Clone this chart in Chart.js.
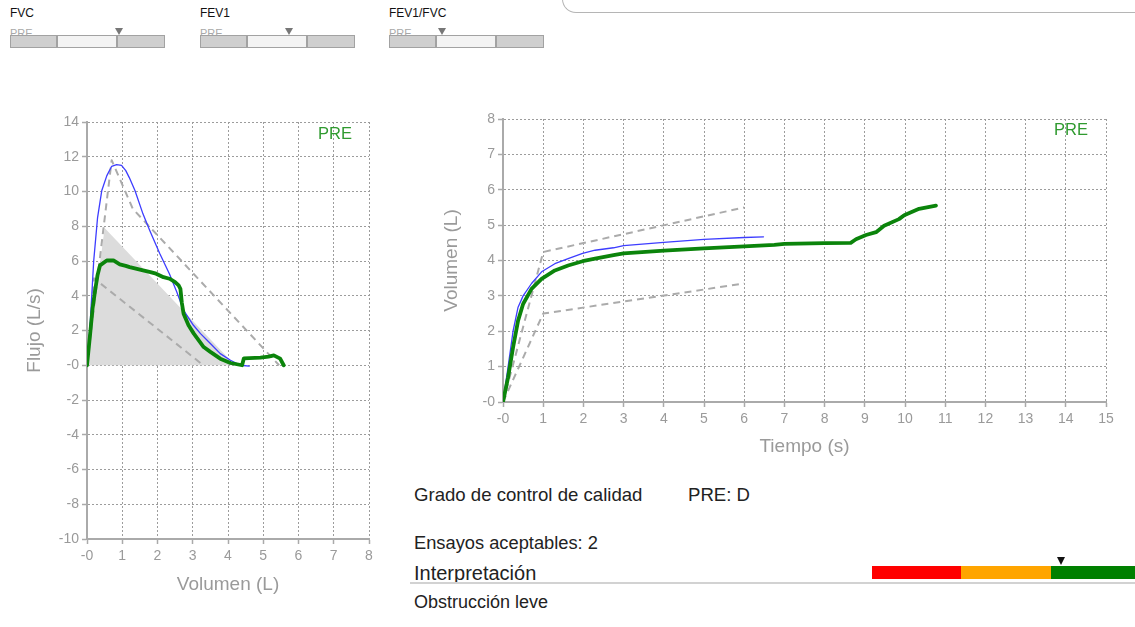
<!DOCTYPE html>
<html>
<head>
<meta charset="utf-8">
<script src="https://cdn.jsdelivr.net/npm/chart.js@4.4.1/dist/chart.umd.min.js"></script>
<style>
  html, body { margin:0; padding:0; background:#fff; }
  #page { position:relative; width:1135px; height:627px; overflow:hidden; font-family:"Liberation Sans", Arial, sans-serif; }
  .abs { position:absolute; white-space:nowrap; }
  canvas { position:absolute; }
</style>
</head>
<body>
<div id="page">
  <div id="indicators"></div>
  <div class="abs" style="left:562px;top:-12px;width:620px;height:24px;border-left:1.5px solid #b5b5b5;border-bottom:1.5px solid #b5b5b5;border-bottom-left-radius:14px;"></div>

  <canvas id="fv" width="400" height="510" style="left:0;top:100px;"></canvas>
  <canvas id="vt" width="715" height="370" style="left:420px;top:100px;"></canvas>

  <div class="abs" style="left:414px;top:484px;font-size:18.6px;line-height:22px;color:#222;">Grado de control de calidad</div>
  <div class="abs" style="left:688px;top:484px;font-size:18.6px;line-height:22px;color:#222;">PRE: D</div>
  <div class="abs" style="left:414px;top:532px;font-size:18.3px;line-height:22px;color:#222;">Ensayos aceptables: 2</div>
  <div class="abs" style="left:414px;top:561px;font-size:20px;line-height:24px;color:#222;">Interpretación</div>
  <div class="abs" style="left:410px;top:582px;width:725px;height:2px;background:#d2d2d2;"></div>
  <div class="abs" style="left:414px;top:591px;font-size:18px;line-height:22px;color:#222;">Obstrucción leve</div>
  <div id="severity"></div>
</div>
<script>
// ---------- Data ----------
// Flow-volume loop (Volumen L, Flujo L/s)
const fvBlueVol  = [0, 0.09, 0.19, 0.3, 0.42, 0.56, 0.7, 0.84, 0.98, 1.1, 1.2, 1.36, 1.59, 1.78, 2.06, 2.34, 2.55, 2.74, 3.02, 3.22, 3.5, 3.78, 4.07, 4.35, 4.6];
const fvBlueFlow = [0, 2.4, 6.0, 8.5, 10.06, 10.9, 11.45, 11.55, 11.5, 11.2, 10.8, 10.06, 8.7, 7.76, 6.45, 5.25, 4.2, 3.16, 2.3, 1.82, 1.25, 0.67, 0.29, 0.0, -0.05];
const fvGreenVol  = [0, 0.09, 0.16, 0.23, 0.3, 0.37, 0.56, 0.75, 0.93, 1.1, 1.21, 1.59, 1.8, 1.96, 2.17, 2.34, 2.5, 2.6, 2.65, 2.69, 2.74, 2.88, 3.03, 3.31, 3.5, 3.78, 4.07, 4.4, 4.45, 4.92, 5.15, 5.3, 5.48, 5.58];
const fvGreenFlow = [0, 1.82, 3.3, 4.3, 5.2, 5.75, 6.03, 6.03, 5.8, 5.72, 5.65, 5.46, 5.36, 5.27, 5.07, 4.98, 4.79, 4.6, 4.4, 3.6, 2.97, 2.3, 1.82, 1.05, 0.77, 0.38, 0.13, 0.0, 0.4, 0.44, 0.5, 0.57, 0.38, 0.0];
const fvShadeVol  = [0, 0.5, 4.2];
const fvShadeFlow = [0, 7.9, 0];
const fvUpperVol  = [0, 0.7, 1.3, 5.45];
const fvUpperFlow = [0, 11.8, 9.0, 0];
const fvLowerVol  = [0, 0.2, 3.3];
const fvLowerFlow = [0, 5.0, 0];
const fvXTicks = ['-0', '1', '2', '3', '4', '5', '6', '7', '8'];
const fvYTicks = ['-10', '-8', '-6', '-4', '-2', '-0', '2', '4', '6', '8', '10', '12', '14'];

// Volume-time curve (Tiempo s, Volumen L)
const vtBlueTime = [0, 0.125, 0.25, 0.375, 0.5, 0.71, 0.96, 1.29, 1.62, 1.98, 2.29, 2.75, 3.0, 4.0, 5.0, 6.0, 6.48];
const vtBlueVol  = [0, 0.98, 2.0, 2.68, 3.0, 3.35, 3.68, 3.91, 4.05, 4.2, 4.29, 4.36, 4.42, 4.51, 4.6, 4.65, 4.67];
const vtGreenTime = [0, 0.125, 0.25, 0.375, 0.5, 0.71, 0.96, 1.29, 1.62, 1.98, 2.29, 2.75, 3.0, 4.0, 5.0, 6.0, 6.75, 7.0, 8.0, 8.65, 8.78, 9.03, 9.28, 9.48, 9.85, 9.98, 10.35, 10.77];
const vtGreenVol  = [0, 0.69, 1.54, 2.3, 2.77, 3.2, 3.48, 3.72, 3.86, 3.98, 4.05, 4.15, 4.2, 4.28, 4.34, 4.4, 4.44, 4.47, 4.49, 4.5, 4.6, 4.72, 4.8, 4.98, 5.17, 5.28, 5.46, 5.55];
const vtUpperTime = [0, 1, 6];
const vtUpperVol  = [0, 4.24, 5.5];
const vtLowerTime = [0, 1, 6];
const vtLowerVol  = [0, 2.5, 3.35];
const vtXTicks = ['-0', '1', '2', '3', '4', '5', '6', '7', '8', '9', '10', '11', '12', '13', '14', '15'];
const vtYTicks = ['-0', '1', '2', '3', '4', '5', '6', '7', '8'];

// Indicator bars (top-left) and severity scale
const indicatorLabels = ['FVC', 'FEV1', 'FEV1/FVC'];
const indicatorMarker = [0.705, 0.578, 0.347];  // fraction along the bar
const severityColors = ['#ff0000', '#ffa500', '#008000'];
const severityMarker = 0.72;

// ---------- Helpers ----------
const pts = (xs, ys) => xs.map((x, i) => ({ x: x, y: ys[i] }));
const FONT = '"Liberation Sans", Arial, sans-serif';
Chart.defaults.font.family = FONT;
Chart.defaults.animation = false;

const BLUE = '#3d3dff', GREEN = '#0b840b', DASH = '#ababab';

function line(data, color, width, order, extra) {
  return Object.assign({
    data: data, showLine: true, borderColor: color, borderWidth: width,
    pointRadius: 0, pointHoverRadius: 0, fill: false, tension: 0, order: order,
    borderJoinStyle: 'round', borderCapStyle: 'round'
  }, extra || {});
}

const preLabel = {
  id: 'preLabel',
  afterDraw(chart, args, opts) {
    const { ctx, chartArea } = chart;
    ctx.save();
    ctx.font = '16.5px ' + FONT;
    ctx.fillStyle = '#2f9a2f';
    ctx.textAlign = 'center';
    ctx.textBaseline = 'middle';
    ctx.fillText('PRE', chartArea.right - opts.dx, chartArea.top + opts.dy);
    ctx.restore();
  }
};

function axis(min, max, step, labels, title, titlePad, size, isX) {
  return {
    type: 'linear', min: min, max: max,
    ticks: {
      stepSize: step, autoSkip: false, maxRotation: 0, color: '#9a9a9a',
      font: { size: 14 }, padding: isX ? 4 : 3,
      callback: (v, i) => labels[i]
    },
    grid: { color: '#9c9c9c', lineWidth: 1, tickLength: 5, tickColor: '#aaaaaa', tickWidth: 1.5, tickBorderDash: [] },
    border: { display: true, color: '#aaaaaa', width: 2, dash: [2, 2] },
    title: { display: true, text: title, color: '#9a9a9a', font: { size: 19 }, padding: titlePad },
    afterFit: (s) => { if (isX) s.height = size; else s.width = size; }
  };
}

// ---------- Flow-volume chart ----------
new Chart(document.getElementById('fv'), {
  type: 'scatter',
  data: { datasets: [
    line(pts(fvGreenVol, fvGreenFlow), GREEN, 3.8, 1),
    line(pts(fvBlueVol, fvBlueFlow), BLUE, 1.3, 2),
    line(pts(fvUpperVol, fvUpperFlow), DASH, 2, 3, { borderDash: [7, 5], borderCapStyle: 'butt' }),
    line(pts(fvLowerVol, fvLowerFlow), DASH, 2, 4, { borderDash: [7, 5], borderCapStyle: 'butt' }),
    line(pts(fvShadeVol, fvShadeFlow), 'rgba(0,0,0,0)', 0, 5, { fill: 'origin', backgroundColor: '#dcdcdc' })
  ]},
  options: {
    responsive: false,
    layout: { padding: { left: 0, right: 31, top: 22, bottom: 0 } },
    plugins: { legend: { display: false }, tooltip: { enabled: false }, preLabel: { dx: 34, dy: 12 } },
    scales: {
      x: axis(0, 8, 1, fvXTicks, 'Volumen (L)', { top: 0, bottom: 14 }, 71, true),
      y: axis(-10, 14, 2, fvYTicks, 'Flujo (L/s)', { top: 23.5, bottom: 0 }, 87, false)
    }
  },
  plugins: [preLabel]
});

// ---------- Volume-time chart ----------
new Chart(document.getElementById('vt'), {
  type: 'scatter',
  data: { datasets: [
    line(pts(vtGreenTime, vtGreenVol), GREEN, 3.8, 1),
    line(pts(vtBlueTime, vtBlueVol), BLUE, 1.3, 2),
    line(pts(vtUpperTime, vtUpperVol), DASH, 2, 3, { borderDash: [7, 5], borderCapStyle: 'butt' }),
    line(pts(vtLowerTime, vtLowerVol), DASH, 2, 4, { borderDash: [7, 5], borderCapStyle: 'butt' })
  ]},
  options: {
    responsive: false,
    layout: { padding: { left: 0, right: 29, top: 19, bottom: 0 } },
    plugins: { legend: { display: false }, tooltip: { enabled: false }, preLabel: { dx: 35, dy: 11 } },
    scales: {
      x: axis(0, 15, 1, vtXTicks, 'Tiempo (s)', { top: 0, bottom: 11.5 }, 68, true),
      y: axis(0, 8, 1, vtYTicks, 'Volumen (L)', { top: 20.5, bottom: 0 }, 83, false)
    }
  },
  plugins: [preLabel]
});

// ---------- Indicator bars ----------
(function () {
  const host = document.getElementById('indicators');
  const lefts = [10, 200, 389];
  const width = 155;
  const segs = [0.30, 0.39, 0.31];
  indicatorLabels.forEach((lab, k) => {
    const x = lefts[k];
    let html = '';
    html += `<div class="abs" style="left:${x}px;top:6px;font-size:12px;line-height:14px;color:#111;">${lab}</div>`;
    html += `<div class="abs" style="left:${x}px;top:26px;font-size:11px;line-height:14px;color:#a8a8a8;">PRE</div>`;
    let cx = 0;
    const cols = ['#cfcfcf', '#f3f3f3', '#cfcfcf'];
    segs.forEach((f, j) => {
      const w = Math.round(width * f);
      html += `<div class="abs" style="left:${x + cx}px;top:35px;width:${(j === 2 ? width - cx : w) - 2}px;height:11px;background:${cols[j]};border:1px solid #a2a2a2;"></div>`;
      cx += w;
    });
    const mx = x + width * indicatorMarker[k];
    html += `<div class="abs" style="left:${mx - 4.5}px;top:28px;width:0;height:0;border-left:4.5px solid transparent;border-right:4.5px solid transparent;border-top:7px solid #777;"></div>`;
    host.insertAdjacentHTML('beforeend', html);
  });
})();

// ---------- Severity scale ----------
(function () {
  const host = document.getElementById('severity');
  const x0 = 872, widths = [89, 90, 84];
  let cx = x0, html = '';
  severityColors.forEach((c, j) => {
    html += `<div class="abs" style="left:${cx}px;top:566px;width:${widths[j]}px;height:13px;background:${c};"></div>`;
    cx += widths[j];
  });
  const mx = x0 + (cx - x0) * severityMarker;
  html += `<div class="abs" style="left:${mx - 4.5}px;top:557px;width:0;height:0;border-left:4.5px solid transparent;border-right:4.5px solid transparent;border-top:8px solid #111;"></div>`;
  host.insertAdjacentHTML('beforeend', html);
})();
</script>
</body>
</html>
